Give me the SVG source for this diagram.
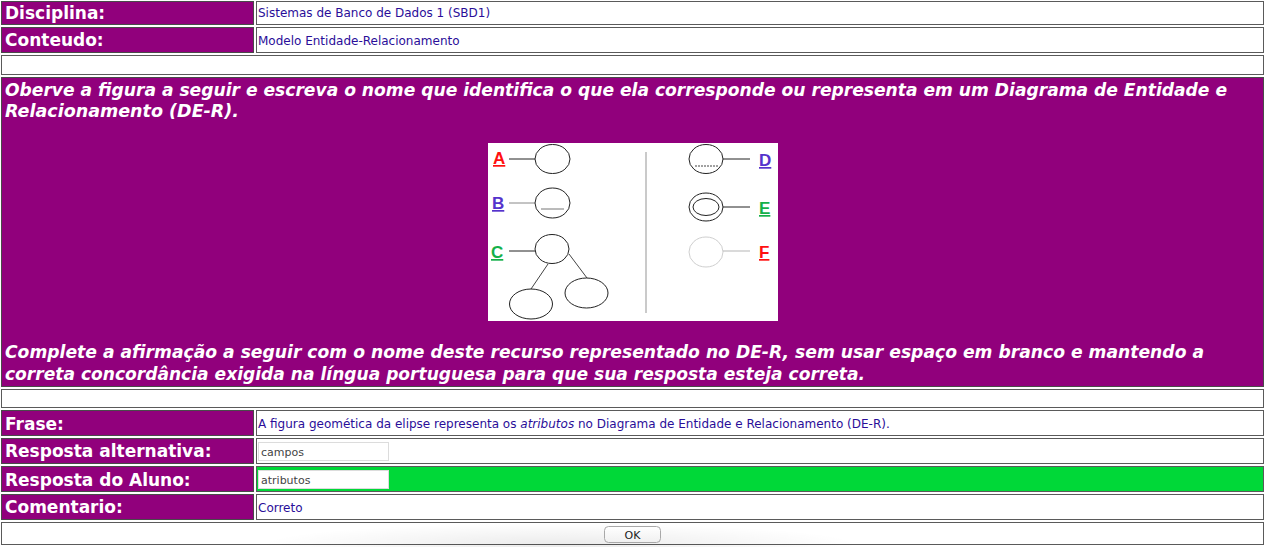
<svg xmlns="http://www.w3.org/2000/svg" width="1266" height="547" viewBox="0 0 1266 547">
<defs>
<style>
.bg{fill:#ffffff}
.pc{fill:#91007c;stroke:#4a4a4a;stroke-width:1}
.wc{fill:#ffffff;stroke:#5a5a5a;stroke-width:1}
.gc{fill:#00d838;stroke:#5a5a5a;stroke-width:1}
.lbl{font-family:"DejaVu Sans",Verdana,sans-serif;font-weight:bold;font-size:17px;fill:#ffffff}
.val{font-family:"DejaVu Sans",Verdana,sans-serif;font-size:12px;fill:#2a0e99}
.big{font-family:"DejaVu Sans",Verdana,sans-serif;font-weight:bold;font-style:italic;font-size:17px;fill:#ffffff}
.inp{fill:#ffffff;stroke:#dcdcdc;stroke-width:1}
.itx{font-family:"DejaVu Sans",Verdana,sans-serif;font-size:11px;fill:#444444}
.el{fill:none;stroke:#222;stroke-width:1}
.ln{stroke:#222;stroke-width:1}
.ft{font-family:"Liberation Sans",Arial,sans-serif;font-weight:bold;font-size:17px;text-decoration:underline}
</style>
<linearGradient id="btn" x1="0" y1="0" x2="0" y2="1">
<stop offset="0" stop-color="#ffffff"/>
<stop offset="1" stop-color="#f0f0f0"/>
</linearGradient>
<radialGradient id="shadow" cx="0.5" cy="0.5" r="0.5">
<stop offset="0" stop-color="#000" stop-opacity="0.08"/>
<stop offset="1" stop-color="#000" stop-opacity="0"/>
</radialGradient>
</defs>
<rect class="bg" x="0" y="0" width="1266" height="547"/>

<g id="row-disciplina">
<rect class="pc" x="1.5" y="1.5" width="252" height="23"/>
<rect class="wc" x="256.5" y="1.5" width="1007" height="23"/>
<text class="lbl" x="5" y="19">Disciplina:</text>
<text class="val" x="258" y="17">Sistemas de Banco de Dados 1 (SBD1)</text>
</g>

<g id="row-conteudo">
<rect class="pc" x="1.5" y="27.5" width="252" height="25"/>
<rect class="wc" x="256.5" y="27.5" width="1007" height="25"/>
<text class="lbl" x="5" y="46">Conteudo:</text>
<text class="val" x="258" y="45">Modelo Entidade-Relacionamento</text>
</g>

<g id="row-empty1">
<rect class="wc" x="1.5" y="55.5" width="1262" height="19"/>
</g>

<g id="row-question">
<rect class="pc" x="1.5" y="77.5" width="1262" height="309"/>
<text class="big" x="5" y="96" textLength="1222" lengthAdjust="spacingAndGlyphs">Oberve a figura a seguir e escreva o nome que identifica o que ela corresponde ou representa em um Diagrama de Entidade e</text>
<text class="big" x="5" y="117" textLength="234" lengthAdjust="spacingAndGlyphs">Relacionamento (DE-R).</text>
<text class="big" x="5" y="358" textLength="1199" lengthAdjust="spacingAndGlyphs">Complete a afirmação a seguir com o nome deste recurso representado no DE-R, sem usar espaço em branco e mantendo a</text>
<text class="big" x="5" y="380" textLength="860" lengthAdjust="spacingAndGlyphs">correta concordância exigida na língua portuguesa para que sua resposta esteja correta.</text>
</g>

<g id="figure">
<rect x="488" y="143" width="290" height="178" fill="#ffffff"/>
<line x1="646" y1="152" x2="646" y2="313" stroke="#b8b8b8" stroke-width="1.5"/>
<g id="fig-A">
<text class="ft" x="493" y="164" fill="#ff1010">A</text>
<line class="ln" x1="509" y1="159" x2="535" y2="159"/>
<ellipse class="el" cx="552.5" cy="159" rx="17.5" ry="14.5"/>
</g>
<g id="fig-B">
<text class="ft" x="492" y="209" fill="#5533cc">B</text>
<line x1="509" y1="203" x2="535" y2="203" stroke="#888" stroke-width="1"/>
<ellipse class="el" cx="552.5" cy="203" rx="17.5" ry="15"/>
<line x1="541" y1="209" x2="564" y2="209" stroke="#777" stroke-width="1"/>
</g>
<g id="fig-C">
<text class="ft" x="491" y="258" fill="#14b04a">C</text>
<line class="ln" x1="509" y1="251" x2="535" y2="251"/>
<ellipse class="el" cx="552" cy="249" rx="17" ry="14.5"/>
<line x1="548" y1="264" x2="531" y2="289" stroke="#444" stroke-width="1"/>
<line x1="569" y1="254" x2="587" y2="278" stroke="#444" stroke-width="1"/>
<ellipse class="el" cx="531" cy="304" rx="21.5" ry="15"/>
<ellipse class="el" cx="586.5" cy="293" rx="21.5" ry="15"/>
</g>
<g id="fig-D">
<ellipse class="el" cx="706" cy="159" rx="17" ry="14.5"/>
<line x1="695" y1="166" x2="718" y2="166" stroke="#444" stroke-width="1" stroke-dasharray="2,1"/>
<line class="ln" x1="723" y1="159" x2="750" y2="159"/>
<text class="ft" x="759" y="166" fill="#5533cc">D</text>
</g>
<g id="fig-E">
<ellipse class="el" cx="706" cy="207" rx="17" ry="14"/>
<ellipse class="el" cx="706" cy="207" rx="13" ry="8.5"/>
<line class="ln" x1="723" y1="207" x2="750" y2="207"/>
<text class="ft" x="759" y="214" fill="#14b04a">E</text>
</g>
<g id="fig-F">
<ellipse cx="706" cy="252" rx="17" ry="15" fill="none" stroke="#cfcfcf" stroke-width="1"/>
<line x1="723" y1="251" x2="750" y2="251" stroke="#b5b5b5" stroke-width="1"/>
<text class="ft" x="759" y="258" fill="#ff1010">F</text>
</g>
</g>

<g id="row-empty2">
<rect class="wc" x="1.5" y="389.5" width="1262" height="18"/>
</g>

<g id="row-frase">
<rect class="pc" x="1.5" y="410.5" width="252" height="25"/>
<rect class="wc" x="256.5" y="410.5" width="1007" height="25"/>
<text class="lbl" x="5" y="430">Frase:</text>
<text class="val" x="258" y="428">A figura geomética da elipse representa os <tspan font-style="italic">atributos</tspan> no Diagrama de Entidade e Relacionamento (DE-R).</text>
</g>

<g id="row-alternativa">
<rect class="pc" x="1.5" y="438.5" width="252" height="25"/>
<rect class="wc" x="256.5" y="438.5" width="1007" height="25"/>
<text class="lbl" x="5" y="457">Resposta alternativa:</text>
<rect class="inp" x="258.5" y="442.5" width="130" height="18"/>
<text class="itx" x="261" y="456">campos</text>
</g>

<g id="row-aluno">
<rect class="pc" x="1.5" y="466.5" width="252" height="25"/>
<rect class="gc" x="256.5" y="466.5" width="1007" height="25"/>
<text class="lbl" x="5" y="486">Resposta do Aluno:</text>
<rect class="inp" x="258.5" y="470.5" width="130" height="18"/>
<text class="itx" x="261" y="484">atributos</text>
</g>

<g id="row-comentario">
<rect class="pc" x="1.5" y="494.5" width="252" height="25"/>
<rect class="wc" x="256.5" y="494.5" width="1007" height="25"/>
<text class="lbl" x="5" y="513">Comentario:</text>
<text class="val" x="258" y="512">Correto</text>
</g>

<g id="row-ok">
<rect class="wc" x="1.5" y="522.5" width="1262" height="22"/>
<ellipse cx="560" cy="545" rx="300" ry="22" fill="url(#shadow)"/>
<g id="btn-ok">
<rect x="604.5" y="526.5" width="56" height="16" rx="4" fill="url(#btn)" stroke="#a8a8a8" stroke-width="1"/>
<text x="632.5" y="539" text-anchor="middle" font-family="'DejaVu Sans',sans-serif" font-size="11px" fill="#222">OK</text>
</g>
</g>
</svg>
